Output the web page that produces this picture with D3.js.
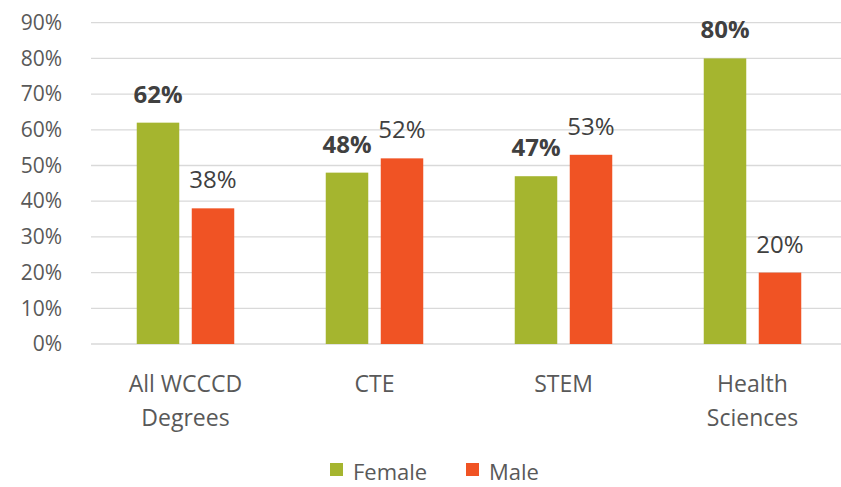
<!DOCTYPE html>
<html><head><meta charset="utf-8">
<script src="https://cdn.jsdelivr.net/npm/d3@7"></script>
<style>body{margin:0;background:#fff}svg{display:block}text{font-family:"Open Sans",sans-serif}</style>
</head><body><svg id="c" width="841" height="487"></svg>
<script>
const categories = [["All WCCCD","Degrees"],["CTE"],["STEM"],["Health","Sciences"]];
const female = [62, 48, 47, 80];
const male = [38, 52, 53, 20];
const seriesNames = ["Female","Male"];
const colors = ["#A5B52F","#F05324"];
const yTicks = [0,10,20,30,40,50,60,70,80,90];

const svg = d3.select("#c");
const pLeft = 91, pRight = 847, pTop = 22.7, pBottom = 344;
const x0 = d3.scaleBand().domain(d3.range(categories.length)).range([pLeft, pRight]).paddingInner(0).paddingOuter(0);
const y = d3.scaleLinear().domain([0,90]).range([pBottom, pTop]);
const bw = 42.5, gap = 12.5;
const txt = "#595959";

// gridlines
svg.append("g").selectAll("line").data(yTicks).join("line")
  .attr("x1", pLeft).attr("x2", pRight).attr("y1", d=>y(d)).attr("y2", d=>y(d))
  .attr("stroke", "#d9d9d9").attr("stroke-width", 1.3);

// y axis labels
const yAxis = d3.axisLeft(y).tickValues(yTicks).tickFormat(d=>d+"%").tickSize(0).tickPadding(0);
const ga = svg.append("g").attr("transform", `translate(62,0)`).call(yAxis);
ga.select(".domain").remove();
ga.selectAll("text").attr("fill", txt).style("font-size","21px").style("font-family","'Open Sans',sans-serif");

const series = [female, male];
series.forEach((vals, si) => {
  const g = svg.append("g");
  const xp = i => x0(i) + x0.bandwidth()/2 + (si===0 ? -gap/2 - bw : gap/2);
  g.selectAll("rect").data(vals).join("rect")
    .attr("x", (d,i)=>xp(i)).attr("width", bw)
    .attr("y", d=>y(d)).attr("height", d=>y(0)-y(d))
    .attr("fill", colors[si]);
  g.selectAll("text").data(vals).join("text")
    .attr("x", (d,i)=>xp(i)+bw/2).attr("y", d=>y(d)-20)
    .attr("text-anchor","middle").attr("fill", "#404040")
    .style("font-size","24px").style("font-weight", si===0 ? "700" : "400")
    .text(d=>d+"%");
});

// category labels
categories.forEach((lines, i) => {
  const t = svg.append("text").attr("x", x0(i)+x0.bandwidth()/2).attr("y", 392)
    .attr("text-anchor","middle").attr("fill", txt).style("font-size","23px");
  lines.forEach((l, k) => t.append("tspan").attr("x", x0(i)+x0.bandwidth()/2).attr("dy", k===0?0:34).text(l));
});

// legend
const lg = svg.append("g");
const lx = [330, 466];
seriesNames.forEach((n, i) => {
  lg.append("rect").attr("x", lx[i]).attr("y", 463).attr("width", 13).attr("height", 13).attr("fill", colors[i]);
  lg.append("text").attr("x", lx[i]+23).attr("y", 480).attr("fill", txt).style("font-size","22px").text(n);
});
</script></body></html>
